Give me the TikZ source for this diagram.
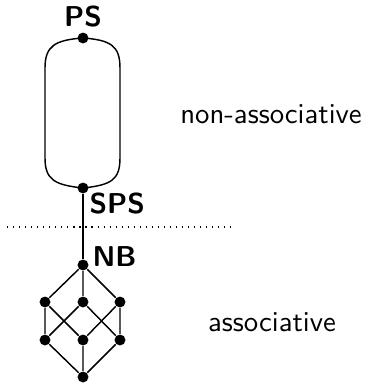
\documentclass[tikz,border=0pt]{standalone}
\begin{document}
\begin{tikzpicture}[x=0.348pt,y=-0.348pt,
  dotnode/.style={circle,fill=black,inner sep=0pt,minimum size=3.8pt},
  edge/.style={line width=0.5pt},
  lbl/.style={font=\sffamily\bfseries,inner sep=0pt},
  region/.style={font=\sffamily,inner sep=0pt,anchor=base}]
\useasboundingbox (0,0) rectangle (365,383);
% nodes
\node[dotnode] (PS) at (83,38) {};
\node[dotnode] (SPS) at (83,188) {};
\node[dotnode] (NB) at (83,265) {};
\node[dotnode] (a1) at (45,302) {};
\node[dotnode] (a2) at (83,302) {};
\node[dotnode] (a3) at (120,302) {};
\node[dotnode] (b1) at (45,340) {};
\node[dotnode] (b2) at (83,340) {};
\node[dotnode] (b3) at (120,340) {};
\node[dotnode] (bot) at (83,377) {};
% labels
\node[lbl,anchor=south] (lPS) at (83,28) {PS};
\node[lbl,anchor=north west] (lSPS) at (89,192) {SPS};
\node[lbl,anchor=south west] (lNB) at (92,267) {NB};
\node[region] (na) at (271,123) {non-associative};
\node[region] (as) at (272,331) {associative};
% loop
\draw[edge] (PS.center) .. controls (55,40) and (45,46) .. (45,68)
  -- (45,158) .. controls (45,180) and (55,185) .. (SPS.center)
  .. controls (111,185) and (120,180) .. (120,158)
  -- (120,68) .. controls (120,46) and (111,40) .. (PS.center);
% separator
\coordinate (dl) at (7,227);
\coordinate (dr) at (232,227);
\draw[line width=0.4pt,dash pattern=on 0.4pt off 1.7pt] (dl) -- (dr);
% chain
\draw[edge] (SPS) -- (NB);
% cube
\draw[edge] (NB) -- (a1) (NB) -- (a2) (NB) -- (a3);
\draw[edge] (a1) -- (b1) (a1) -- (b2);
\draw[edge] (a2) -- (b1) (a2) -- (b3);
\draw[edge] (a3) -- (b2) (a3) -- (b3);
\draw[edge] (b1) -- (bot) (b2) -- (bot) (b3) -- (bot);
\end{tikzpicture}
\end{document}
